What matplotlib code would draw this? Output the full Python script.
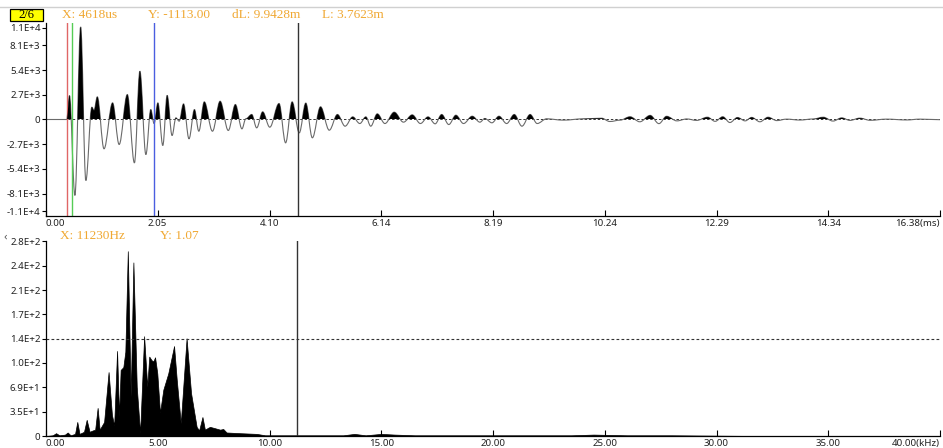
import matplotlib
matplotlib.use('Agg')
import matplotlib.pyplot as plt
from matplotlib.path import Path
from matplotlib.patches import PathPatch, Rectangle

# waveform turning points (ms, amplitude)
wave_t = [0.0, 0.38, 0.43, 0.53, 0.635, 0.73, 0.84, 0.88, 0.94, 1.063, 1.22, 1.34, 1.49, 1.62, 1.72,
          1.83, 1.92, 1.98, 2.05, 2.14, 2.22, 2.31, 2.38, 2.44, 2.52, 2.62, 2.72, 2.80, 2.90, 3.05,
          3.19, 3.34, 3.47, 3.59, 3.66, 3.77, 3.86, 3.97, 4.10, 4.27, 4.39, 4.51, 4.64, 4.76, 4.88,
          5.03, 5.19, 5.34, 5.48, 5.62, 5.75, 5.86, 5.95, 6.07, 6.21, 6.38, 6.55, 6.71, 6.86, 7.00,
          7.13, 7.25, 7.38, 7.51, 7.65, 7.81, 7.95, 8.04, 8.17, 8.30, 8.44, 8.58, 8.72, 8.87, 9.00,
          9.17, 9.48, 9.84, 10.18, 10.33, 10.52, 10.70, 10.88, 11.07, 11.23, 11.37, 11.56, 11.74,
          11.92, 12.12, 12.26, 12.40, 12.53, 12.67, 12.81, 12.93, 13.08, 13.23, 13.39, 13.57, 13.81,
          14.06, 14.24, 14.42, 14.58, 14.73, 14.91, 15.10, 15.40, 15.77, 16.01, 16.38]
wave_v = [0, 0, 2620, -8300, 10130, -6670, 1350, 1000, 2480, -3200, 1820, -2730, 2730, -4740, 5280,
          -3830, 1090, -440, 1820, -2840, 2640, -1750, 180, -180, 1710, -2110, 1090, -1280, 1930, -1280,
          2000, -1200, 1640, -1020, 70, 550, -910, 840, -840, 1750, -2550, 1930, -1460, 1800, -2000,
          1390, -1170, 550, -730, 290, -440, 290, -730, 620, -440, 800, -290, 510, -440, 290,
          -470, 550, -550, 470, -440, 360, -290, 110, -360, 360, -440, 550, -730, 550, -440,
          70, -70, 70, 140, -220, -70, 300, -250, 450, -450, 350, -150, 60,
          -100, 250, -200, 300, -330, 220, -150, 230, -250, 250, -120, 40, -60,
          60, 250, -170, 180, -100, 150, -90, 40, -50, 40, -20]

# spectrum (kHz, amplitude)
spec_f = [0.0, 0.3, 0.45, 0.6, 0.85, 0.97, 1.1, 1.3, 1.40, 1.5, 1.7, 1.82, 1.95, 2.1, 2.2, 2.31, 2.4,
          2.6, 2.80, 2.95, 3.05, 3.18, 3.27, 3.34, 3.46, 3.55, 3.66, 3.79, 3.91, 4.06, 4.21, 4.39,
          4.53, 4.62, 4.72, 4.80, 4.88, 4.98, 5.10, 5.25, 5.47, 5.73, 5.85, 6.03, 6.29, 6.49, 6.74,
          6.85, 7.00, 7.11, 7.27, 7.34, 7.57, 7.79, 7.93, 8.08, 8.68, 9.43, 9.8, 10.5, 12.5, 13.3,
          13.8, 14.3, 15.0, 15.6, 16.5, 20.0, 23.5, 24.5, 26.0, 28.0, 32.0, 36.0, 40.0]
spec_a = [0, 1, 4, 1, 2, 5, 1, 3, 20, 3, 6, 23, 6, 8, 9, 40, 9,
          20, 91, 30, 15, 121, 28, 94, 98, 120, 263, 56, 247, 70, 4, 142,
          70, 113, 108, 106, 112, 89, 33, 66, 89, 128, 80, 18, 139, 61, 13,
          8, 27, 9, 12, 13, 11, 9, 10, 5, 4, 3, 1, 1, 1, 1,
          3, 1, 3, 2, 1, 1, 1, 2, 1, 1, 0, 0, 0]

top_ticks = [0, 2.0475, 4.095, 6.1425, 8.19, 10.2375, 12.285, 14.3325, 16.38]
top_labels = ['0.00', '2.05', '4.10', '6.14', '8.19', '10.24', '12.29', '14.34', '16.38(ms)']
top_yticks = [-10050, -8100, -5400, -2700, 0, 2700, 5400, 8100, 10050]
top_ylabels = ['-1.1E+4', '-8.1E+3', '-5.4E+3', '-2.7E+3', '0', '2.7E+3', '5.4E+3', '8.1E+3', '1.1E+4']
bot_ticks = [0, 5, 10, 15, 20, 25, 30, 35, 40]
bot_labels = ['0.00', '5.00', '10.00', '15.00', '20.00', '25.00', '30.00', '35.00', '40.00(kHz)']
bot_yticks = [0, 34.6, 69.25, 103.9, 138.5, 173.1, 207.75, 242.4, 277]
bot_ylabels = ['0', '3.5E+1', '6.9E+1', '1.0E+2', '1.4E+2', '1.7E+2', '2.1E+2', '2.4E+2', '2.8E+2']

cursor_red, cursor_green, cursor_blue, cursor_t = 0.39, 0.47, 1.98, 4.618
cursor_f, level = 11.23, 138.5

W, H = 943, 448
fig = plt.figure(figsize=(W / 100, H / 100), dpi=100)
plt.rcParams['font.family'] = ['Noto Sans', 'DejaVu Sans']
orange = '#f0a832'


def style_axes(ax, xt, xl, yt, yl):
    for s in ['top', 'right']:
        ax.spines[s].set_visible(False)
    ax.spines['left'].set_linewidth(0.9)
    ax.spines['bottom'].set_linewidth(0.9)
    ax.set_xticks(xt)
    ax.set_xticklabels(xl, fontsize=7, color='#222222')
    ax.set_yticks(yt)
    ax.set_yticklabels(yl, fontsize=7, color='#222222')
    ax.tick_params(axis='x', direction='in', length=4, pad=2, width=0.8)
    ax.tick_params(axis='y', direction='out', length=3, pad=1, width=0.8)
    lbls = ax.get_xticklabels()
    lbls[0].set_ha('left')
    lbls[-1].set_ha('right')


# ---- top: time waveform
ax1 = fig.add_axes([46 / W, (H - 216) / H, 894 / W, 193 / H])
ax1.set_xlim(0, 16.38)
ax1.set_ylim(-10550, 10550)

verts = [(wave_t[0], wave_v[0])]
codes = [Path.MOVETO]
for i in range(1, len(wave_t)):
    dx = wave_t[i] - wave_t[i - 1]
    verts += [(wave_t[i - 1] + 0.36 * dx, wave_v[i - 1]), (wave_t[i] - 0.36 * dx, wave_v[i]), (wave_t[i], wave_v[i])]
    codes += [Path.CURVE4] * 3
line_path = Path(verts, codes)
fill_path = Path(verts + [(wave_t[-1], 0), (wave_t[0], 0), (wave_t[0], 0)],
                 codes + [Path.LINETO, Path.LINETO, Path.CLOSEPOLY])

ax1.axhline(0, color='#333333', lw=0.7, ls=(0, (2.5, 2)))
fill = PathPatch(fill_path, facecolor='black', edgecolor='none', zorder=3)
ax1.add_patch(fill)
fill.set_clip_path(Rectangle((0, 0), 16.38, 11000, transform=ax1.transData))
ax1.add_patch(PathPatch(line_path, facecolor='none', edgecolor='#6a6a6a', lw=0.8, zorder=2))

ax1.axvline(cursor_red, color='#e06666', lw=1)
ax1.axvline(cursor_green, color='#55cc55', lw=1)
ax1.axvline(cursor_blue, color='#4a5ee0', lw=1)
ax1.axvline(cursor_t, color='#333333', lw=1)
style_axes(ax1, top_ticks, top_labels, top_yticks, top_ylabels)

# ---- bottom: spectrum
ax2 = fig.add_axes([46 / W, (H - 436) / H, 894 / W, 195 / H])
ax2.set_xlim(0, 40)
ax2.set_ylim(0, 277.5)
ax2.fill_between(spec_f, spec_a, 0, color='black', lw=0.5)
ax2.axvline(cursor_f, color='#333333', lw=1)
ax2.axhline(level, color='#333333', lw=0.8, ls=(0, (2.5, 2)), clip_on=False)
style_axes(ax2, bot_ticks, bot_labels, bot_yticks, bot_ylabels)

# ---- header texts
fig.add_artist(plt.Line2D([0, 1], [1 - 7 / H, 1 - 7 / H], color='#d0d0d0', lw=1))
fig.add_artist(Rectangle((10 / W, 1 - 21 / H), 33 / W, 12 / H, transform=fig.transFigure,
                         facecolor='#ffff00', edgecolor='black', lw=0.9))
fig.text(26.5 / W, 1 - 15 / H, '2/6', fontsize=9, family='Liberation Serif', ha='center', va='center')
serif = dict(fontsize=9.5, family='Liberation Serif', color=orange, va='center')
fig.text(62 / W, 1 - 15 / H, 'X: 4618us', **serif)
fig.text(148 / W, 1 - 15 / H, 'Y: -1113.00', **serif)
fig.text(232 / W, 1 - 15 / H, 'dL: 9.9428m', **serif)
fig.text(322 / W, 1 - 15 / H, 'L: 3.7623m', **serif)
fig.text(60 / W, 1 - 236 / H, 'X: 11230Hz', **serif)
fig.text(160 / W, 1 - 236 / H, 'Y: 1.07', **serif)
fig.text(4 / W, 1 - 237 / H, '‹', fontsize=8, color='#555555', va='center')

fig.savefig('out.png', dpi=100)
